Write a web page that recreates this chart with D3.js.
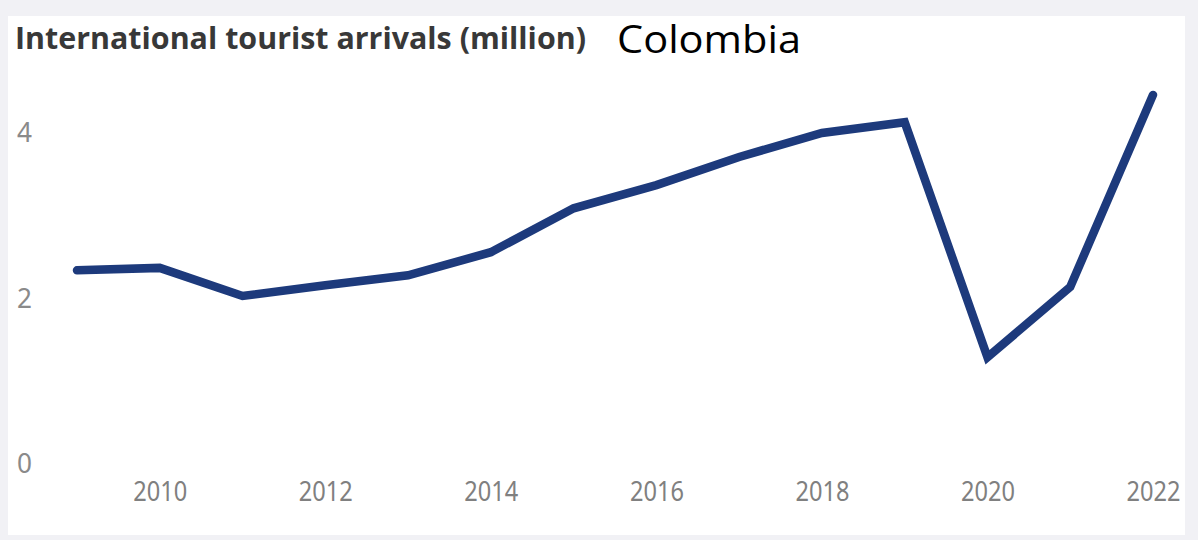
<!DOCTYPE html>
<html>
<head>
<meta charset="utf-8">
<script src="https://cdn.jsdelivr.net/npm/d3@7"></script>
<style>
  body { margin: 0; background: #f1f1f5; }
  svg { display: block; }
</style>
</head>
<body>
<div class="graph"></div>
<script>
// values (million arrivals)
const years = [2009, 2010, 2011, 2012, 2013, 2014, 2015, 2016, 2017, 2018, 2019, 2020, 2021, 2022];
const arrivals = [2.34, 2.37, 2.03, 2.16, 2.28, 2.56, 3.09, 3.37, 3.71, 4.00, 4.13, 1.29, 2.14, 4.46];
const xTicks = [2010, 2012, 2014, 2016, 2018, 2020, 2022];
const yTicks = [0, 2, 4];

const W = 1198, H = 540;
const svg = d3.select(".graph").append("svg").attr("width", W).attr("height", H);

// white panel
svg.append("rect")
    .attr("x", 8).attr("y", 16)
    .attr("width", 1177).attr("height", 519)
    .attr("fill", "#ffffff");

const xScale = d3.scaleLinear().domain([2009, 2022]).range([77, 1153]);
const yScale = d3.scaleLinear().domain([0, 4]).range([464, 133]);

const lineFunc = d3.line()
    .x((d, i) => xScale(years[i]))
    .y(d => yScale(d));

svg.append("path")
    .attr("d", lineFunc(arrivals))
    .attr("stroke", "#1d3a7c")
    .attr("stroke-width", 8.5)
    .attr("stroke-linejoin", "miter")
    .attr("stroke-linecap", "round")
    .attr("fill", "none");

// x axis labels
const xaxis = d3.axisBottom(xScale).tickValues(xTicks).tickFormat(d3.format("d")).tickSize(0);
const gx = svg.append("g")
    .attr("transform", "translate(0,478)")
    .call(xaxis);
gx.select(".domain").remove();
gx.selectAll("text")
    .attr("fill", "#808080")
    .style("font-family", "'Noto Sans', sans-serif")
    .style("font-size", "28px")
    .attr("textLength", 54)
    .attr("lengthAdjust", "spacingAndGlyphs");

// y axis labels
const yaxis = d3.axisLeft(yScale).tickValues(yTicks).tickFormat(d3.format("d")).tickSize(0);
const gy = svg.append("g")
    .attr("transform", "translate(17,0)")
    .call(yaxis);
gy.select(".domain").remove();
gy.selectAll("text")
    .attr("fill", "#8a8a8a")
    .attr("x", 0)
    .attr("text-anchor", "start")
    .style("font-family", "'Noto Sans', sans-serif")
    .style("font-size", "28px")
    .attr("textLength", 15)
    .attr("lengthAdjust", "spacingAndGlyphs");

svg.append("text")
    .attr("x", 15).attr("y", 49)
    .attr("textLength", 571)
    .attr("lengthAdjust", "spacingAndGlyphs")
    .style("font-family", "'Open Sans', sans-serif")
    .style("font-weight", "bold")
    .style("font-size", "31px")
    .attr("fill", "#383838")
    .text("International tourist arrivals (million)");

svg.append("text")
    .attr("x", 617).attr("y", 53)
    .attr("textLength", 184)
    .attr("lengthAdjust", "spacingAndGlyphs")
    .style("font-family", "'Open Sans', sans-serif")
    .style("font-size", "38px")
    .attr("fill", "#000000")
    .text("Colombia");
</script>
</body>
</html>
